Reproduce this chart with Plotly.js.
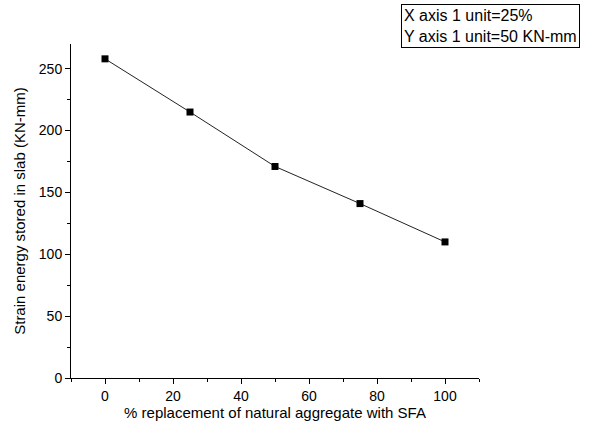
<!DOCTYPE html>
<html>
<head>
<meta charset="utf-8">
<script src="https://cdn.plot.ly/plotly-3.0.1.min.js"></script>
<style>html,body{margin:0;padding:0;background:#fff;}#chart{width:590px;height:432px;}</style>
</head>
<body>
<div id="chart"></div>
<script>
const replacement = [0, 25, 50, 75, 100];
const strainEnergy = [258, 215, 171, 141, 110];
const xTitle = "% replacement of natural aggregate with SFA";
const yTitle = "Strain energy stored in slab (KN-mm)";
const noteText = "X axis 1 unit=25%<br>Y axis 1 unit=50 KN-mm";

const fam = "Liberation Sans, Arial, sans-serif";

const trace = {
  x: replacement, y: strainEnergy, type: "scatter", mode: "lines+markers",
  line: {color: "#222", width: 1},
  marker: {symbol: "square", size: 7, color: "#000"},
  showlegend: false, hoverinfo: "none"
};

const layout = {
  width: 590, height: 432,
  margin: {l: 71, r: 111, t: 44, b: 54},
  paper_bgcolor: "#fff", plot_bgcolor: "#fff",
  font: {family: fam, size: 14, color: "#000"},
  xaxis: {
    range: [-10, 110], tickvals: [0, 20, 40, 60, 80, 100],
    ticks: "outside", ticklen: 5, tickwidth: 1, tickcolor: "#000",
    showline: true, linecolor: "#000", linewidth: 1, showgrid: false, zeroline: false,
    minor: {tickvals: [-10, 10, 30, 50, 70, 90, 110], ticks: "outside", ticklen: 3, tickcolor: "#000", showgrid: false},
    tickfont: {family: fam, size: 14, color: "#000"},
    title: {text: xTitle, font: {family: fam, size: 15, color: "#000"}, standoff: 2}
  },
  yaxis: {
    range: [0, 270], tickvals: [0, 50, 100, 150, 200, 250],
    ticks: "outside", ticklen: 5, tickwidth: 1, tickcolor: "#000",
    showline: true, linecolor: "#000", linewidth: 1, showgrid: false, zeroline: false,
    minor: {tickvals: [25, 75, 125, 175, 225], ticks: "outside", ticklen: 3, tickcolor: "#000", showgrid: false},
    tickfont: {family: fam, size: 14, color: "#000"},
    title: {text: yTitle, font: {family: fam, size: 15, color: "#000"}, standoff: 9}
  },
  annotations: [{
    xref: "paper", yref: "paper", x: 0.809, y: 1.12, xanchor: "left", yanchor: "top",
    text: noteText, showarrow: false, align: "left",
    font: {family: fam, size: 16, color: "#000"},
    bordercolor: "#000", borderwidth: 1, borderpad: 2, bgcolor: "#fff"
  }]
};

Plotly.newPlot("chart", [trace], layout, {staticPlot: true, displayModeBar: false});
</script>
</body>
</html>
